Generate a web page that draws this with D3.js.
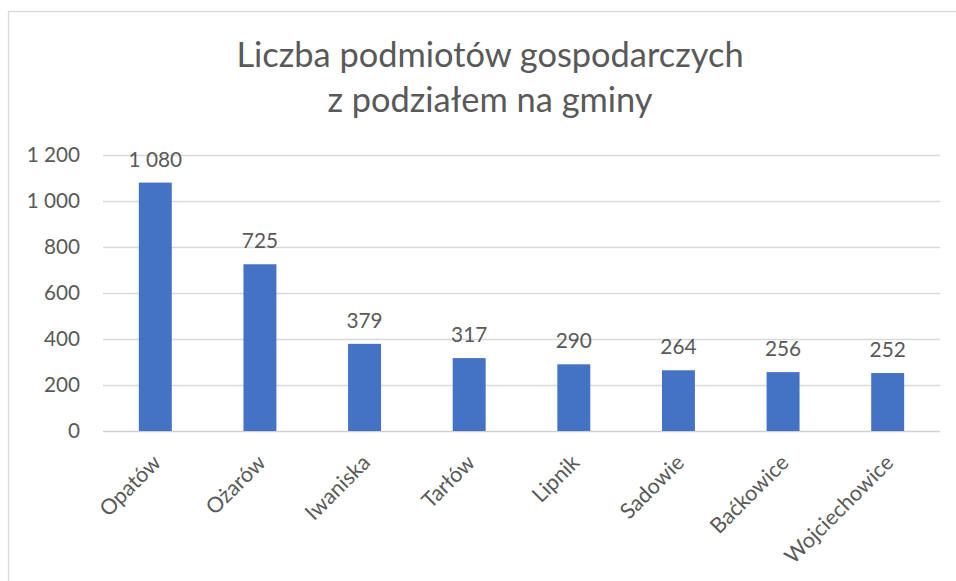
<!DOCTYPE html>
<html>
<head>
<meta charset="utf-8">
<script src="https://cdn.jsdelivr.net/npm/d3@7"></script>
<style>
  html, body { margin: 0; padding: 0; background: #fff; }
  svg { display: block; }
  text { font-family: Lato, "Open Sans", sans-serif; fill: #595959; }
</style>
</head>
<body>
<svg id="chart" width="956" height="581"></svg>
<script>
const titleLines = ["Liczba podmiotów gospodarczych", "z podziałem na gminy"];
const categories = ["Opatów", "Ożarów", "Iwaniska", "Tarłów", "Lipnik", "Sadowie", "Baćkowice", "Wojciechowice"];
const values = [1080, 725, 379, 317, 290, 264, 256, 252];
const yTicks = [0, 200, 400, 600, 800, 1000, 1200];

const W = 956, H = 581;
const margin = { left: 103, right: 16, top: 155, bottom: 150 };
const svg = d3.select("#chart");

// chart area border (only top and left visible)
svg.append("rect")
  .attr("x", 8.5).attr("y", 11.5)
  .attr("width", W + 20).attr("height", H + 20)
  .attr("fill", "none").attr("stroke", "#d9d9d9").attr("stroke-width", 1.3);

const x = d3.scaleBand().domain(categories)
  .range([margin.left, W - margin.right]).paddingInner(0.685).paddingOuter(0.3425);
const y = d3.scaleLinear().domain([0, 1200]).range([431, 155]);

const fmt = v => d3.format(",")(v).replace(/,/g, " ");

// gridlines
svg.append("g").selectAll("line").data(yTicks).join("line")
  .attr("x1", margin.left).attr("x2", W - margin.right)
  .attr("y1", d => Math.round(y(d)) + 0.5).attr("y2", d => Math.round(y(d)) + 0.5)
  .attr("stroke", d => d === 0 ? "#d0d0d0" : "#d9d9d9").attr("stroke-width", 1.3);

// y axis labels
const yAxis = d3.axisLeft(y).tickValues(yTicks).tickFormat(fmt).tickSize(0).tickPadding(23);
const gy = svg.append("g").attr("transform", `translate(${margin.left},0)`).call(yAxis);
gy.select(".domain").remove();
gy.selectAll("text").attr("font-size", 20.7).style("font-family", "Lato, sans-serif").attr("fill", "#595959");

// bars
svg.append("g").selectAll("rect").data(values).join("rect")
  .attr("x", (d, i) => x(categories[i]))
  .attr("width", x.bandwidth())
  .attr("y", d => y(d))
  .attr("height", d => y(0) - y(d))
  .attr("fill", "#4472c4");

// data labels
svg.append("g").selectAll("text").data(values).join("text")
  .attr("x", (d, i) => x(categories[i]) + x.bandwidth() / 2)
  .attr("y", d => y(d) - 16)
  .attr("text-anchor", "middle")
  .attr("font-size", 20.8)
  .text(d => fmt(d));

// x axis labels
const xAxis = d3.axisBottom(x).tickSize(0).tickPadding(0);
const gx = svg.append("g").attr("transform", `translate(0,${y(0)})`).call(xAxis);
gx.select(".domain").remove();
gx.selectAll("text")
  .attr("font-size", 21.5)
  .style("font-family", "Lato, sans-serif")
  .attr("fill", "#595959")
  .attr("text-anchor", "end")
  .attr("dy", null).attr("y", null)
  .attr("transform", "translate(7,33) rotate(-45)");

// title
svg.append("g").selectAll("text").data(titleLines).join("text")
  .attr("x", 490)
  .attr("y", (d, i) => 67 + i * 45)
  .attr("text-anchor", "middle")
  .attr("font-size", 34.4)
  .text(d => d);
</script>
</body>
</html>
